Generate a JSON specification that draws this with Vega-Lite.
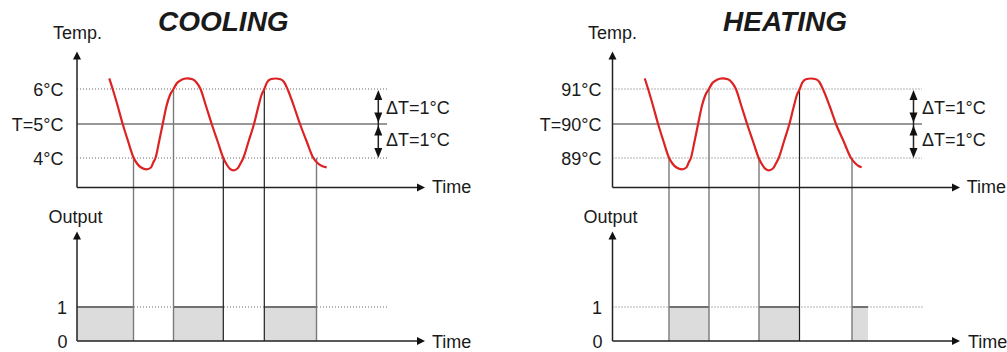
{
  "$schema": "https://vega.github.io/schema/vega-lite/v6.json",
  "width": 1007,
  "height": 352,
  "autosize": "none",
  "padding": 0,
  "background": "white",
  "config": {"view": {"stroke": null}},
  "datasets": {
    "curve": [
      {"panel":"cooling","x":109.3,"y":78.3},{"panel":"cooling","x":112.7,"y":89},{"panel":"cooling","x":117.7,"y":106},{"panel":"cooling","x":122.7,"y":124},{"panel":"cooling","x":128,"y":141},{"panel":"cooling","x":133.3,"y":157},{"panel":"cooling","x":137,"y":163.5},{"panel":"cooling","x":141.5,"y":167.8},{"panel":"cooling","x":146.5,"y":169.3},{"panel":"cooling","x":151,"y":167.5},{"panel":"cooling","x":153.5,"y":162},{"panel":"cooling","x":155.5,"y":158},{"panel":"cooling","x":159.2,"y":141},{"panel":"cooling","x":162.7,"y":124},{"panel":"cooling","x":166.5,"y":106},{"panel":"cooling","x":170,"y":95},{"panel":"cooling","x":173.5,"y":89},{"panel":"cooling","x":177,"y":83},{"panel":"cooling","x":181.5,"y":79.8},{"panel":"cooling","x":187,"y":78.3},{"panel":"cooling","x":192.5,"y":79.3},{"panel":"cooling","x":196.5,"y":82.5},{"panel":"cooling","x":200.5,"y":89},{"panel":"cooling","x":206,"y":106},{"panel":"cooling","x":211.7,"y":124},{"panel":"cooling","x":217.5,"y":141},{"panel":"cooling","x":223.3,"y":158},{"panel":"cooling","x":227,"y":165},{"panel":"cooling","x":230,"y":168.8},{"panel":"cooling","x":233.5,"y":170.3},{"panel":"cooling","x":237.5,"y":168.5},{"panel":"cooling","x":240.5,"y":163.5},{"panel":"cooling","x":243.3,"y":158},{"panel":"cooling","x":248.7,"y":141},{"panel":"cooling","x":254,"y":124},{"panel":"cooling","x":258.5,"y":106},{"panel":"cooling","x":261.5,"y":95},{"panel":"cooling","x":264.3,"y":89},{"panel":"cooling","x":267,"y":82.5},{"panel":"cooling","x":270.5,"y":79.3},{"panel":"cooling","x":275.5,"y":78.5},{"panel":"cooling","x":280.5,"y":79.3},{"panel":"cooling","x":284,"y":82},{"panel":"cooling","x":287.5,"y":89},{"panel":"cooling","x":294,"y":106.5},{"panel":"cooling","x":300,"y":124},{"panel":"cooling","x":306.5,"y":141},{"panel":"cooling","x":313.3,"y":158},{"panel":"cooling","x":317.5,"y":163},{"panel":"cooling","x":322,"y":166},{"panel":"cooling","x":326.7,"y":167.3},
      {"panel":"heating","x":644.7,"y":78.3},{"panel":"heating","x":648.1,"y":89},{"panel":"heating","x":653.1,"y":106},{"panel":"heating","x":658.1,"y":124},{"panel":"heating","x":663.4,"y":141},{"panel":"heating","x":668.7,"y":157},{"panel":"heating","x":672.4,"y":163.5},{"panel":"heating","x":676.9,"y":167.8},{"panel":"heating","x":681.9,"y":169.3},{"panel":"heating","x":686.4,"y":167.5},{"panel":"heating","x":688.9,"y":162},{"panel":"heating","x":690.9,"y":158},{"panel":"heating","x":694.6,"y":141},{"panel":"heating","x":698.1,"y":124},{"panel":"heating","x":701.9,"y":106},{"panel":"heating","x":705.4,"y":95},{"panel":"heating","x":708.9,"y":89},{"panel":"heating","x":712.4,"y":83},{"panel":"heating","x":716.9,"y":79.8},{"panel":"heating","x":722.4,"y":78.3},{"panel":"heating","x":727.9,"y":79.3},{"panel":"heating","x":731.9,"y":82.5},{"panel":"heating","x":735.9,"y":89},{"panel":"heating","x":741.4,"y":106},{"panel":"heating","x":747.1,"y":124},{"panel":"heating","x":752.9,"y":141},{"panel":"heating","x":758.7,"y":158},{"panel":"heating","x":762.4,"y":165},{"panel":"heating","x":765.4,"y":168.8},{"panel":"heating","x":768.9,"y":170.3},{"panel":"heating","x":772.9,"y":168.5},{"panel":"heating","x":775.9,"y":163.5},{"panel":"heating","x":778.7,"y":158},{"panel":"heating","x":784.1,"y":141},{"panel":"heating","x":789.4,"y":124},{"panel":"heating","x":793.9,"y":106},{"panel":"heating","x":796.9,"y":95},{"panel":"heating","x":799.7,"y":89},{"panel":"heating","x":802.4,"y":82.5},{"panel":"heating","x":805.9,"y":79.3},{"panel":"heating","x":810.9,"y":78.5},{"panel":"heating","x":815.9,"y":79.3},{"panel":"heating","x":819.4,"y":82},{"panel":"heating","x":822.9,"y":89},{"panel":"heating","x":829.8,"y":106.5},{"panel":"heating","x":836,"y":124},{"panel":"heating","x":843.5,"y":141},{"panel":"heating","x":851,"y":158},{"panel":"heating","x":855,"y":163},{"panel":"heating","x":858.5,"y":166},{"panel":"heating","x":861.7,"y":167.3}
    ],
    "bars": [
      {"x":77,"x2":133.5,"y":307,"y2":341},{"x":173.5,"x2":223.3,"y":307,"y2":341},{"x":264.3,"x2":316.5,"y":307,"y2":341},
      {"x":669,"x2":709,"y":307,"y2":341},{"x":759,"x2":799.5,"y":307,"y2":341},{"x":852,"x2":868,"y":307,"y2":341}
    ],
    "rules": [
      {"kind":"dotted","x":77,"x2":387,"y":89,"y2":89},{"kind":"dotted","x":77,"x2":387,"y":158,"y2":158},{"kind":"dotted","x":77,"x2":388,"y":307,"y2":307},
      {"kind":"dotted","x":612.5,"x2":922,"y":89,"y2":89},{"kind":"dotted","x":612.5,"x2":922,"y":158,"y2":158},{"kind":"dotted","x":612.5,"x2":923,"y":307,"y2":307},
      {"kind":"setpoint","x":77,"x2":387,"y":124,"y2":124},{"kind":"setpoint","x":612.5,"x2":922,"y":124,"y2":124},
      {"kind":"vgray","x":133.5,"x2":133.5,"y":158,"y2":341},{"kind":"vgray","x":173.5,"x2":173.5,"y":89,"y2":341},{"kind":"vblack","x":223.3,"x2":223.3,"y":158,"y2":341},{"kind":"vblack","x":264.3,"x2":264.3,"y":89,"y2":341},{"kind":"vgray","x":316.5,"x2":316.5,"y":158,"y2":341},
      {"kind":"vgray","x":669,"x2":669,"y":158,"y2":341},{"kind":"vgray","x":709,"x2":709,"y":89,"y2":341},{"kind":"vgray","x":759,"x2":759,"y":158,"y2":341},{"kind":"vblack","x":799.5,"x2":799.5,"y":89,"y2":341},{"kind":"vgray","x":852,"x2":852,"y":158,"y2":341},
      {"kind":"bartop","x":77,"x2":133.5,"y":307,"y2":307},{"kind":"bartop","x":173.5,"x2":223.3,"y":307,"y2":307},{"kind":"bartop","x":264.3,"x2":316.5,"y":307,"y2":307},
      {"kind":"bartop","x":669,"x2":709,"y":307,"y2":307},{"kind":"bartop","x":759,"x2":799.5,"y":307,"y2":307},{"kind":"bartop","x":852,"x2":868,"y":307,"y2":307},
      {"kind":"axis","x":77,"x2":77,"y":187.5,"y2":57},{"kind":"axis","x":77,"x2":419,"y":187.5,"y2":187.5},{"kind":"axis","x":77,"x2":77,"y":341,"y2":237},{"kind":"axis","x":77,"x2":419,"y":341,"y2":341},
      {"kind":"axis","x":612.5,"x2":612.5,"y":187.5,"y2":57},{"kind":"axis","x":612.5,"x2":954,"y":187.5,"y2":187.5},{"kind":"axis","x":612.5,"x2":612.5,"y":341,"y2":237},{"kind":"axis","x":612.5,"x2":954,"y":341,"y2":341},
      {"kind":"delta","x":378.3,"x2":378.3,"y":94,"y2":154},{"kind":"delta","x":913.5,"x2":913.5,"y":94,"y2":154}
    ],
    "arrows": [
      {"kind":"axis","dir":"up","x":77,"y":51.5},{"kind":"axis","dir":"up","x":77,"y":231.5},{"kind":"axis","dir":"up","x":612.5,"y":51.5},{"kind":"axis","dir":"up","x":612.5,"y":231.5},
      {"kind":"axis","dir":"right","x":425,"y":187.5},{"kind":"axis","dir":"right","x":425,"y":341},{"kind":"axis","dir":"right","x":960,"y":187.5},{"kind":"axis","dir":"right","x":960,"y":341},
      {"kind":"delta","dir":"up","x":378.3,"y":90},{"kind":"delta","dir":"up","x":378.3,"y":125.5},{"kind":"delta","dir":"up","x":913.5,"y":90},{"kind":"delta","dir":"up","x":913.5,"y":125.5},
      {"kind":"delta","dir":"down","x":378.3,"y":122.5},{"kind":"delta","dir":"down","x":378.3,"y":158},{"kind":"delta","dir":"down","x":913.5,"y":122.5},{"kind":"delta","dir":"down","x":913.5,"y":158}
    ],
    "labels": [
      {"text":"COOLING","x":223.3,"y":21,"kind":"title"},
      {"text":"HEATING","x":785,"y":21,"kind":"title"},
      {"text":"Temp.","x":77.5,"y":32,"kind":"name"},
      {"text":"Temp.","x":612.5,"y":32,"kind":"name"},
      {"text":"Output","x":75.5,"y":216,"kind":"name"},
      {"text":"Output","x":610.5,"y":216,"kind":"name"},
      {"text":"6°C","x":63.5,"y":89.5,"kind":"tick"},
      {"text":"T=5°C","x":63.5,"y":124,"kind":"tick"},
      {"text":"4°C","x":63.5,"y":158.5,"kind":"tick"},
      {"text":"91°C","x":601.5,"y":89.5,"kind":"tick"},
      {"text":"T=90°C","x":601.5,"y":124,"kind":"tick"},
      {"text":"89°C","x":601.5,"y":158.5,"kind":"tick"},
      {"text":"1","x":67,"y":307,"kind":"tick"},
      {"text":"0","x":67.5,"y":341,"kind":"tick"},
      {"text":"1","x":602,"y":307,"kind":"tick"},
      {"text":"0","x":602.5,"y":341,"kind":"tick"},
      {"text":"Time","x":432,"y":186.5,"kind":"side"},
      {"text":"Time","x":432,"y":341.5,"kind":"side"},
      {"text":"Time","x":966.7,"y":186.5,"kind":"side"},
      {"text":"Time","x":968,"y":341.5,"kind":"side"},
      {"text":"ΔT=1°C","x":386,"y":107.5,"kind":"side"},
      {"text":"ΔT=1°C","x":386,"y":139.5,"kind":"side"},
      {"text":"ΔT=1°C","x":922,"y":107.5,"kind":"side"},
      {"text":"ΔT=1°C","x":922,"y":139.5,"kind":"side"}
    ]
  },
  "encoding": {
    "x": {"field": "x", "type": "quantitative", "scale": {"domain": [0, 1007], "nice": false, "zero": false}, "axis": null},
    "y": {"field": "y", "type": "quantitative", "scale": {"domain": [0, 352], "nice": false, "zero": false, "reverse": true}, "axis": null}
  },
  "layer": [
    {"data": {"name": "bars"}, "mark": {"type": "rect", "fill": "#dcdcdc", "strokeWidth": 0}, "encoding": {"x2": {"field": "x2"}, "y2": {"field": "y2"}}},
    {"data": {"name": "rules"}, "transform": [{"filter": "datum.kind === 'dotted'"}], "mark": {"type": "rule", "color": "#666666", "strokeWidth": 1, "strokeDash": [1, 2]}, "encoding": {"x2": {"field": "x2"}, "y2": {"field": "y2"}}},
    {"data": {"name": "rules"}, "transform": [{"filter": "datum.kind === 'bartop'"}], "mark": {"type": "rule", "color": "#707070", "strokeWidth": 2}, "encoding": {"x2": {"field": "x2"}, "y2": {"field": "y2"}}},
    {"data": {"name": "rules"}, "transform": [{"filter": "datum.kind === 'setpoint'"}], "mark": {"type": "rule", "color": "#333333", "strokeWidth": 1}, "encoding": {"x2": {"field": "x2"}, "y2": {"field": "y2"}}},
    {"data": {"name": "rules"}, "transform": [{"filter": "datum.kind === 'vgray'"}], "mark": {"type": "rule", "color": "#7a7a7a", "strokeWidth": 1.4}, "encoding": {"x2": {"field": "x2"}, "y2": {"field": "y2"}}},
    {"data": {"name": "rules"}, "transform": [{"filter": "datum.kind === 'vblack'"}], "mark": {"type": "rule", "color": "#1e1e1e", "strokeWidth": 1.2}, "encoding": {"x2": {"field": "x2"}, "y2": {"field": "y2"}}},
    {"data": {"name": "rules"}, "transform": [{"filter": "datum.kind === 'axis' || datum.kind === 'delta'"}], "mark": {"type": "rule", "color": "#222222", "strokeWidth": 1.5}, "encoding": {"x2": {"field": "x2"}, "y2": {"field": "y2"}}},
    {"data": {"name": "curve"}, "mark": {"type": "line", "color": "#dd2222", "strokeWidth": 2.2, "interpolate": "monotone"}, "encoding": {"detail": {"field": "panel"}}},
    {"data": {"name": "arrows"}, "transform": [{"filter": "datum.kind === 'axis' && datum.dir === 'up'"}], "mark": {"type": "point", "shape": "M0,0L1,2L-1,2Z", "size": 64, "filled": true, "color": "#111111", "opacity": 1, "strokeWidth": 0}},
    {"data": {"name": "arrows"}, "transform": [{"filter": "datum.kind === 'axis' && datum.dir === 'right'"}], "mark": {"type": "point", "shape": "M0,0L-2,1L-2,-1Z", "size": 64, "filled": true, "color": "#111111", "opacity": 1, "strokeWidth": 0}},
    {"data": {"name": "arrows"}, "transform": [{"filter": "datum.kind === 'delta' && datum.dir === 'up'"}], "mark": {"type": "point", "shape": "M0,0L1,2.5L-1,2.5Z", "size": 64, "filled": true, "color": "#111111", "opacity": 1, "strokeWidth": 0}},
    {"data": {"name": "arrows"}, "transform": [{"filter": "datum.kind === 'delta' && datum.dir === 'down'"}], "mark": {"type": "point", "shape": "M0,0L1,-2.5L-1,-2.5Z", "size": 64, "filled": true, "color": "#111111", "opacity": 1, "strokeWidth": 0}},
    {"data": {"name": "labels"}, "transform": [{"filter": "datum.kind === 'title'"}], "mark": {"type": "text", "font": "Liberation Sans", "fontSize": 28, "fontWeight": "bold", "fontStyle": "italic", "align": "center", "baseline": "middle", "dy": 2, "color": "#1a1a1a"}, "encoding": {"text": {"field": "text"}}},
    {"data": {"name": "labels"}, "transform": [{"filter": "datum.kind === 'name'"}], "mark": {"type": "text", "font": "Liberation Sans", "fontSize": 18, "align": "center", "baseline": "middle", "dy": 1.5, "color": "#1a1a1a"}, "encoding": {"text": {"field": "text"}}},
    {"data": {"name": "labels"}, "transform": [{"filter": "datum.kind === 'tick'"}], "mark": {"type": "text", "font": "Liberation Sans", "fontSize": 18, "align": "right", "baseline": "middle", "dy": 1.5, "color": "#1a1a1a"}, "encoding": {"text": {"field": "text"}}},
    {"data": {"name": "labels"}, "transform": [{"filter": "datum.kind === 'side'"}], "mark": {"type": "text", "font": "Liberation Sans", "fontSize": 18, "align": "left", "baseline": "middle", "dy": 1.5, "color": "#1a1a1a"}, "encoding": {"text": {"field": "text"}}}
  ]
}
